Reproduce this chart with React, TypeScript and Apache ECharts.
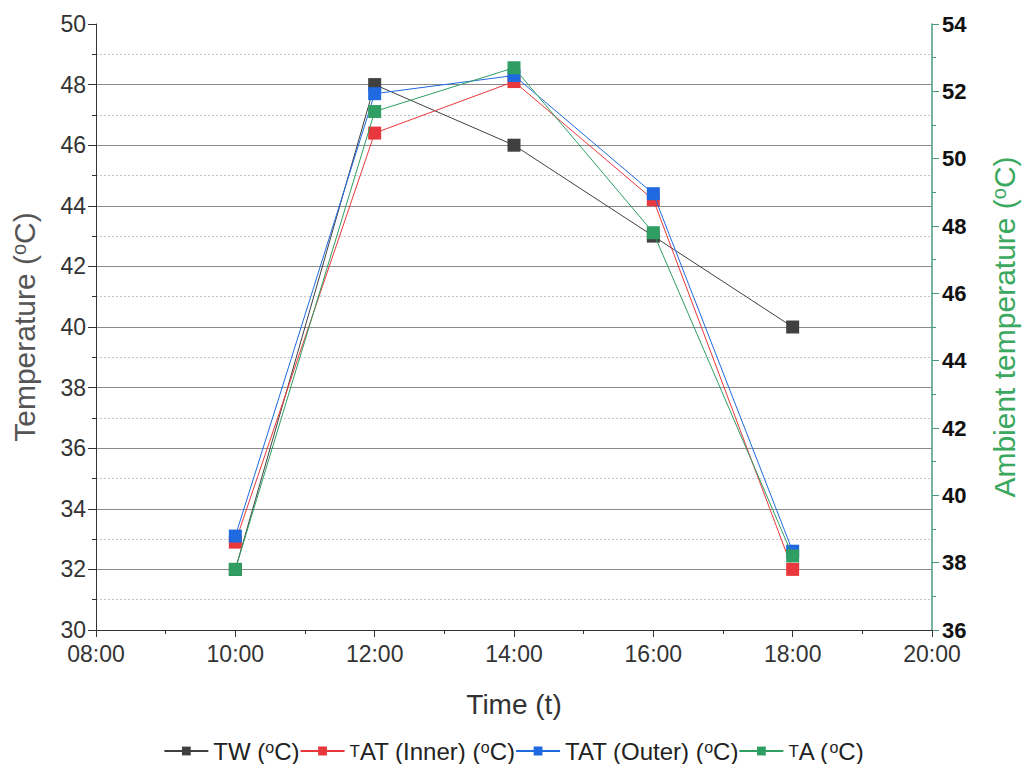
import React, { useEffect, useRef } from "react";
import * as echarts from "echarts";

const times = [10, 12, 14, 16, 18];
const twValues = [32.0, 48.0, 46.0, 43.0, 40.0];
const tatInnerValues = [32.9, 46.4, 48.1, 44.2, 32.0];
const tatOuterValues = [33.1, 47.7, 48.3, 44.4, 32.6];
const ambientValues = [37.8, 51.4, 52.7, 47.8, 38.2];

const seriesNames = ["TW (oC)", "TAT (Inner) (oC)", "TAT (Outer) (oC)", "TA (oC)"];
const seriesColors = ["#404040", "#e8383d", "#1f6ae0", "#2e9e62"];

const FONT = "Liberation Sans, Arial, sans-serif";

export default function App() {
  const ref = useRef<HTMLDivElement>(null);
  useEffect(() => {
    if (!ref.current) return;
    const chart = echarts.init(ref.current, null, { renderer: "svg" });
    const mk = (vals: number[]) => times.map((t, i) => [t, vals[i]]);
    const allVals = [twValues, tatInnerValues, tatOuterValues, ambientValues];
    const legendFmt = (name: string) => {
      if (name === "TW (oC)") return "TW ({s|o}C)";
      if (name === "TAT (Inner) (oC)") return "{t|T}AT (Inner) ({s|o}C)";
      if (name === "TAT (Outer) (oC)") return "TAT (Outer) ({s|o}C)";
      return "{t|T}A ({s|o}C)";
    };
    chart.setOption({
      animation: false,
      backgroundColor: "#ffffff",
      textStyle: { fontFamily: FONT },
      grid: { left: 96, right: 94, top: 24, bottom: 134 },
      legend: {
        top: 734,
        left: "center",
        itemGap: 0,
        itemWidth: 44,
        itemHeight: 11,
        formatter: legendFmt,
        textStyle: {
          fontSize: 24,
          color: "#222",
          fontFamily: FONT,
          rich: {
            s: { fontSize: 16, color: "#222", fontFamily: FONT, verticalAlign: "top", lineHeight: 22 },
            t: { fontSize: 17, color: "#222", fontFamily: FONT },
          },
        },
        data: seriesNames,
      },
      xAxis: {
        type: "value",
        min: 8,
        max: 20,
        interval: 2,
        name: "Time (t)",
        nameLocation: "middle",
        nameGap: 60,
        nameTextStyle: { fontSize: 28, color: "#333", fontFamily: FONT, verticalAlign: "top" },
        axisLine: { show: true, lineStyle: { color: "#333", width: 1 } },
        axisTick: { show: true, inside: false, length: 7, lineStyle: { color: "#333" } },
        minorTick: { show: true, splitNumber: 2, length: 4, lineStyle: { color: "#333" } },
        splitLine: { show: false },
        axisLabel: {
          fontSize: 23,
          color: "#333",
          margin: 12,
          formatter: (v: number) => (v < 10 ? "0" : "") + v + ":00",
        },
      },
      yAxis: [
        {
          type: "value",
          min: 30,
          max: 50,
          interval: 2,
          position: "left",
          name: "Temperature ({s|o}C)",
          nameLocation: "middle",
          nameGap: 57,
          nameRotate: 90,
          nameTextStyle: {
            fontSize: 30,
            color: "#555",
            fontFamily: FONT,
            rich: { s: { fontSize: 20, color: "#555", fontFamily: FONT, verticalAlign: "top", lineHeight: 28 } },
          },
          axisLine: { show: true, lineStyle: { color: "#333", width: 1 } },
          axisTick: { show: true, inside: false, length: 8, lineStyle: { color: "#333" } },
          minorTick: { show: true, splitNumber: 2, length: 4, lineStyle: { color: "#333" } },
          splitLine: { show: true, showMaxLine: false, showMinLine: false, lineStyle: { color: "#8a8a8a", width: 1 } },
          minorSplitLine: { show: true, lineStyle: { color: "#c4c4c4", width: 1, type: [2, 2] } },
          axisLabel: { fontSize: 23, color: "#333", margin: 10 },
        },
        {
          type: "value",
          min: 36,
          max: 54,
          interval: 2,
          position: "right",
          name: "Ambient temperature ({s|o}C)",
          nameLocation: "middle",
          nameGap: 57,
          nameRotate: 90,
          nameTextStyle: {
            fontSize: 30,
            color: "#3aa85e",
            fontFamily: FONT,
            rich: { s: { fontSize: 20, color: "#3aa85e", fontFamily: FONT, verticalAlign: "top", lineHeight: 28 } },
          },
          axisLine: { show: true, lineStyle: { color: "#4a9a7e", width: 1.5 } },
          axisTick: { show: true, inside: false, length: 7, lineStyle: { color: "#4a9a7e" } },
          minorTick: { show: true, splitNumber: 2, length: 4, lineStyle: { color: "#4a9a7e" } },
          splitLine: { show: false },
          axisLabel: { fontSize: 22, color: "#111", fontWeight: "bold", margin: 10 },
        },
      ],
      series: seriesNames.map((name, i) => ({
        name,
        type: "line",
        yAxisIndex: i === 3 ? 1 : 0,
        data: mk(allVals[i]),
        symbol: "rect",
        symbolSize: 13,
        z: 2 + i,
        itemStyle: { color: seriesColors[i] },
        lineStyle: { color: seriesColors[i], width: 1 },
      })),
    });
    return () => chart.dispose();
  }, []);
  return (
    <div
      ref={ref}
      style={{ position: "fixed", left: 0, top: 0, width: 1027, height: 764 }}
    />
  );
}
